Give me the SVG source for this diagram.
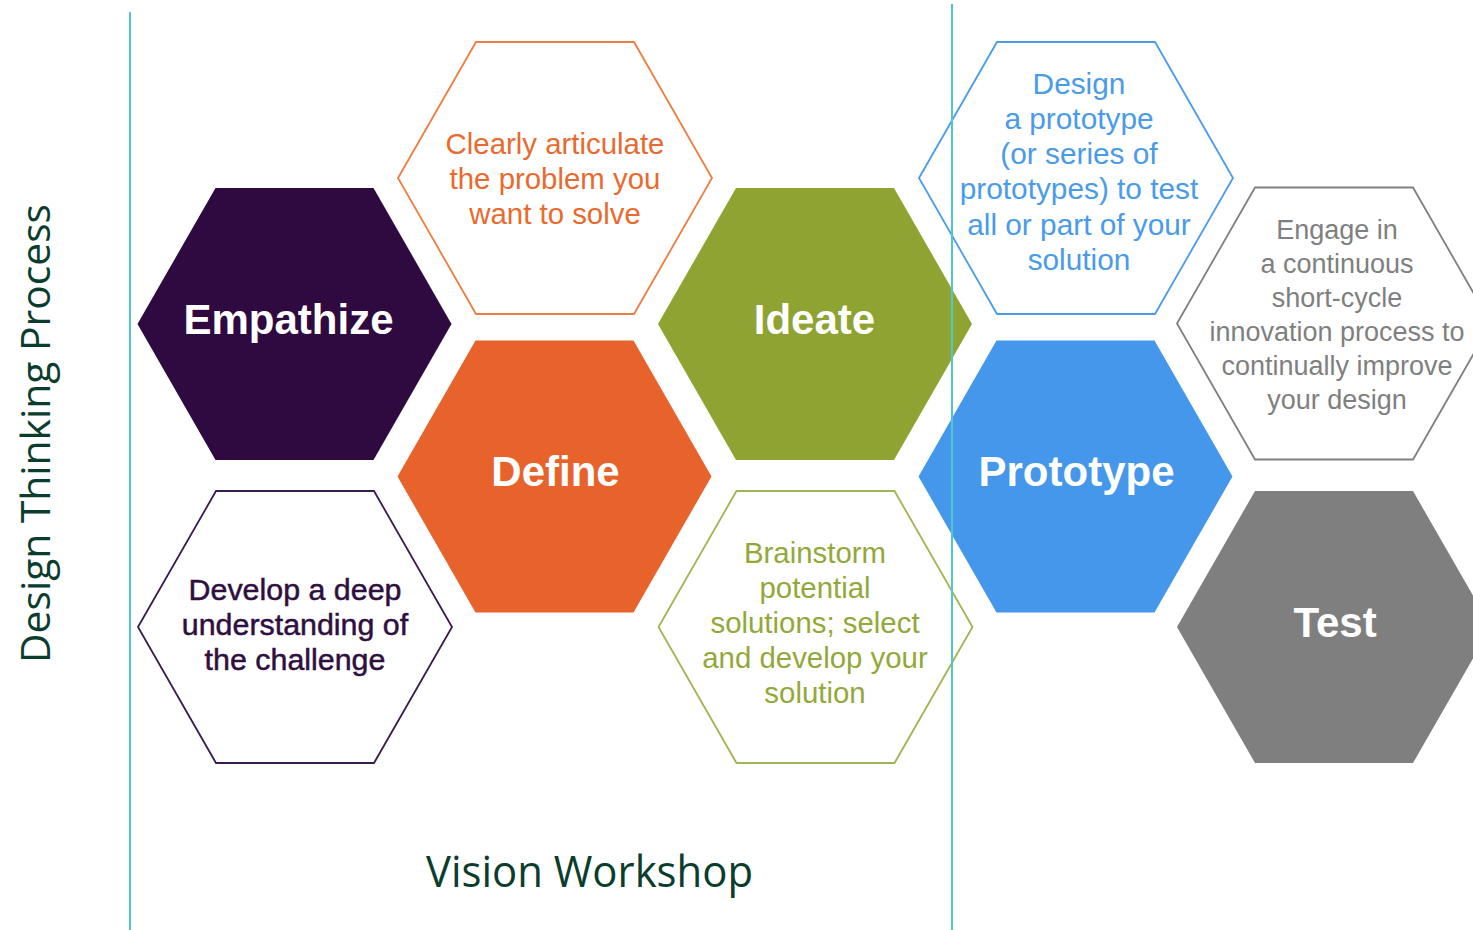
<svg xmlns="http://www.w3.org/2000/svg" xmlns:xlink="http://www.w3.org/1999/xlink" width="1473" height="930" viewBox="0 0 1473 930">
<style>
.lbl{font-family:"Liberation Sans",Arial,sans-serif;font-weight:bold;font-size:42px;fill:#ffffff;text-anchor:middle}
.desc{font-family:"Liberation Sans",Arial,sans-serif;font-size:29.4px;text-anchor:middle}
.title{font-family:"Open Sans","Noto Sans",sans-serif;fill:#0b3d2e}
.out{fill:#ffffff;stroke-width:1.8}
.vline{stroke:#4ec8cd;stroke-width:2;fill:none}
</style>
<defs>
<polygon id="hex" points="-157,0 -79,-136 79,-136 157,0 79,136 -79,136"/>
</defs>
<rect width="1473" height="930" fill="#ffffff"/>

<g id="empathize">
<use href="#hex" x="294.5" y="324" fill="#2f0a40"/>
<text class="lbl" x="288.5" y="334">Empathize</text>
</g>

<g id="define">
<use href="#hex" x="554.5" y="476.5" fill="#e8632b"/>
<text class="lbl" x="555.5" y="486">Define</text>
</g>

<g id="ideate">
<use href="#hex" x="815" y="324" fill="#8fa332"/>
<text class="lbl" x="814.5" y="334">Ideate</text>
</g>

<g id="prototype">
<use href="#hex" x="1075.5" y="476.5" fill="#4597ec"/>
<text class="lbl" x="1076.5" y="486">Prototype</text>
</g>

<g id="test">
<use href="#hex" x="1334" y="627" fill="#7f7f7f"/>
<text class="lbl" x="1335" y="637">Test</text>
</g>

<g id="articulate">
<use href="#hex" x="555" y="178" class="out" stroke="#ee7d43"/>
<text class="desc" fill="#e96a2e" x="555"><tspan x="555" y="154">Clearly articulate</tspan><tspan x="555" y="189">the problem you</tspan><tspan x="555" y="224">want to solve</tspan></text>
</g>

<g id="understand">
<use href="#hex" x="295" y="627" class="out" stroke="#3a1c4d"/>
<text class="desc" fill="#2e0f40" stroke="#2e0f40" stroke-width="0.5" style="font-size:30.4px" x="295"><tspan x="295" y="600">Develop a deep</tspan><tspan x="295" y="635">understanding of</tspan><tspan x="295" y="670">the challenge</tspan></text>
</g>

<g id="brainstorm">
<use href="#hex" x="815.5" y="627" class="out" stroke="#9fb552"/>
<text class="desc" fill="#93a83a" x="815"><tspan x="815" y="563">Brainstorm</tspan><tspan x="815" y="598">potential</tspan><tspan x="815" y="633">solutions; select</tspan><tspan x="815" y="668">and develop your</tspan><tspan x="815" y="703">solution</tspan></text>
</g>

<g id="design">
<use href="#hex" x="1076" y="178" class="out" stroke="#4a9be8"/>
<text class="desc" fill="#4a9be8" style="font-size:29.8px" x="1079"><tspan x="1079" y="94">Design</tspan><tspan x="1079" y="129">a prototype</tspan><tspan x="1079" y="164">(or series of</tspan><tspan x="1079" y="199">prototypes) to test</tspan><tspan x="1079" y="235">all or part of your</tspan><tspan x="1079" y="270">solution</tspan></text>
</g>

<g id="engage">
<use href="#hex" x="1334" y="323.5" class="out" stroke="#808080"/>
<text class="desc" fill="#7f7f7f" style="font-size:27px" x="1337"><tspan x="1337" y="239">Engage in</tspan><tspan x="1337" y="273">a continuous</tspan><tspan x="1337" y="307">short-cycle</tspan><tspan x="1337" y="341">innovation process to</tspan><tspan x="1337" y="375">continually improve</tspan><tspan x="1337" y="409">your design</tspan></text>
</g>

<g id="connectors">
<line class="vline" x1="130" y1="12" x2="130" y2="930"/>
<line class="vline" x1="952" y1="4" x2="952" y2="930"/>
</g>

<g id="titles">
<text class="title" font-size="41" transform="translate(50,663) rotate(-90)" textLength="459" lengthAdjust="spacingAndGlyphs">Design Thinking Process</text>
<text class="title" font-size="44" x="426" y="887" textLength="327" lengthAdjust="spacingAndGlyphs">Vision Workshop</text>
</g>
</svg>
